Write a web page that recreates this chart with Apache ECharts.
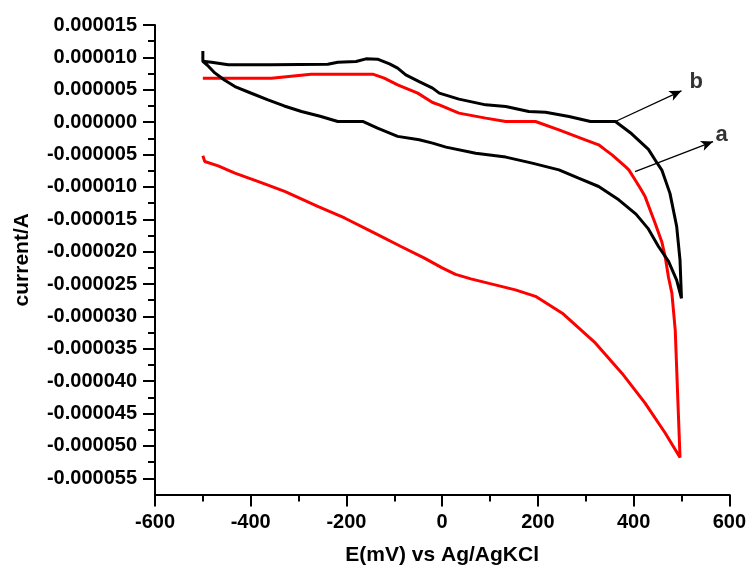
<!DOCTYPE html>
<html>
<head>
<meta charset="utf-8">
<script src="https://cdn.jsdelivr.net/npm/echarts@6/dist/echarts.min.js"></script>
<style>html,body{margin:0;padding:0;background:#fff;}#c{width:749px;height:575px;}</style>
</head>
<body>
<div id="c"></div>
<script>
// ---- data (E in mV, current in A) ----
const xTicks = [-600, -400, -200, 0, 200, 400, 600];
const yTicks = [0.000015, 0.000010, 0.000005, 0.000000, -0.000005, -0.000010, -0.000015, -0.000020, -0.000025, -0.000030, -0.000035, -0.000040, -0.000045, -0.000050, -0.000055];
const yMinorTicks = [0.0000125, 0.0000075, 0.0000025, -0.0000025, -0.0000075, -0.0000125, -0.0000175, -0.0000225, -0.0000275, -0.0000325, -0.0000375, -0.0000425, -0.0000475, -0.0000525];
const yMin = -0.0000575;
const yMax = 0.000015;

// curve b (black): forward sweep then return sweep
const blackE = [-500, -500, -488, -475, -455, -433, -400, -364, -330, -294, -255, -218, -166, -135, -93, -48, -20, 8, 70, 133, 188, 244, 285, 327, 369, 405, 430, 452, 473, 490, 500,
  497, 490, 476, 459, 449, 431, 396, 362, 310, 265, 216, 181, 133, 91, 35, -6, -20, -48, -76, -93, -110, -135, -159, -180, -218, -239, -357, -447, -482, -500];
const blackI = [11.0e-6, 9.4e-6, 8.6e-6, 7.6e-6, 6.5e-6, 5.5e-6, 4.5e-6, 3.44e-6, 2.5e-6, 1.64e-6, 0.9e-6, 0.1e-6, 0.1e-6, -0.93e-6, -2.2e-6, -2.73e-6, -3.24e-6, -3.86e-6, -4.8e-6, -5.4e-6, -6.33e-6, -7.37e-6, -8.65e-6, -9.94e-6, -12.0e-6, -14.2e-6, -16.4e-6, -19.2e-6, -21.5e-6, -24.4e-6, -27.2e-6,
  -21.3e-6, -16.1e-6, -11.0e-6, -7.4e-6, -6.3e-6, -4.2e-6, -1.8e-6, 0.1e-6, 0.1e-6, 0.86e-6, 1.54e-6, 1.64e-6, 2.41e-6, 2.67e-6, 3.55e-6, 4.48e-6, 5.25e-6, 6.27e-6, 7.3e-6, 8.34e-6, 9.0e-6, 9.73e-6, 9.77e-6, 9.36e-6, 9.26e-6, 8.95e-6, 8.85e-6, 8.85e-6, 9.26e-6, 9.4e-6];

// curve a (red): forward sweep then return sweep
const redE = [-500, -496, -468, -433, -378, -329, -260, -204, -142, -86, -37, 0, 28, 60, 98, 153, 195, 251, 320, 376, 424, 466, 497,
  492, 487, 480, 473, 466, 459, 445, 424, 414, 403, 390, 383, 355, 341, 327, 299, 244, 195, 133, 91, 35, -6, -20, -51, -93, -121, -145, -274, -357, -500];
const redI = [-5.2e-6, -6.08e-6, -6.75e-6, -7.88e-6, -9.33e-6, -10.7e-6, -13.0e-6, -14.8e-6, -17.1e-6, -19.2e-6, -21.0e-6, -22.5e-6, -23.5e-6, -24.2e-6, -24.9e-6, -25.9e-6, -26.9e-6, -29.5e-6, -34.1e-6, -38.8e-6, -43.4e-6, -48.0e-6, -51.8e-6,
  -42.0e-6, -32.1e-6, -26.4e-6, -24.0e-6, -20.8e-6, -18.5e-6, -15.6e-6, -11.5e-6, -10.2e-6, -8.9e-6, -7.37e-6, -6.86e-6, -5.05e-6, -4.28e-6, -3.5e-6, -2.73e-6, -1.19e-6, 0.1e-6, 0.1e-6, 0.62e-6, 1.39e-6, 2.67e-6, 3.03e-6, 4.48e-6, 5.76e-6, 6.79e-6, 7.41e-6, 7.41e-6, 6.79e-6, 6.79e-6];

// annotation arrows: [startE, startI, endE, endI]
const arrowB = [362, 0.1e-6, 500, 4.83e-6];
const arrowA = [403, -7.63e-6, 566, -3.0e-6];
const labelNames = ['b', 'a'];
const labelE = [531, 584];
const labelI = [6.27e-6, -1.96e-6];

const xTitle = 'E(mV) vs Ag/AgKCl';
const yTitle = 'current/A';

// ---- chart ----
const pair = (xs, ys) => xs.map((x, i) => [x, ys[i]]);
const font = 'Liberation Sans, Arial, sans-serif';
const chart = echarts.init(document.getElementById('c'), null, {renderer: 'canvas'});
const axisLineStyle = {color: '#000', width: 2};

chart.setOption({
  animation: false,
  backgroundColor: '#fff',
  grid: {left: 155, right: 18, top: 25, bottom: 80.5, containLabel: false},
  xAxis: {
    type: 'value', min: xTicks[0], max: xTicks[xTicks.length - 1], interval: 200,
    axisLine: {show: true, onZero: false, lineStyle: axisLineStyle},
    axisTick: {show: true, length: 12, lineStyle: axisLineStyle},
    minorTick: {show: true, splitNumber: 2, length: 7, lineStyle: axisLineStyle},
    splitLine: {show: false}, minorSplitLine: {show: false},
    axisLabel: {color: '#000', fontSize: 20, fontWeight: 'bold', fontFamily: font, margin: 18},
    name: xTitle, nameLocation: 'middle', nameGap: 50,
    nameTextStyle: {color: '#000', fontSize: 21, fontWeight: 'bold', fontFamily: font}
  },
  yAxis: [{
    type: 'value', min: yMin, max: yMax,
    axisLine: {show: true, onZero: false, lineStyle: axisLineStyle},
    axisTick: {show: true, length: 12, lineStyle: axisLineStyle, customValues: yTicks},
    splitLine: {show: false},
    axisLabel: {color: '#000', fontSize: 20, fontWeight: 'bold', fontFamily: font, margin: 18,
      customValues: yTicks, formatter: v => (Math.abs(v) < 1e-12 ? 0 : v).toFixed(6)},
    name: yTitle, nameLocation: 'middle', nameGap: 122, nameRotate: 90,
    nameTextStyle: {color: '#000', fontSize: 21, fontWeight: 'bold', fontFamily: font}
  }, {
    type: 'value', min: yMin, max: yMax, position: 'left', offset: 0,
    axisLine: {show: false, onZero: false},
    axisTick: {show: true, length: 7, lineStyle: axisLineStyle, customValues: yMinorTicks},
    axisLabel: {show: false},
    splitLine: {show: false}
  }],
  series: [{
    type: 'line', name: 'b', data: pair(blackE, blackI), showSymbol: false, symbol: 'none',
    lineStyle: {color: '#000', width: 3}, smooth: false, z: 3,
    markLine: {
      silent: true, symbol: ['none', 'arrow'], symbolSize: [8, 12],
      lineStyle: {color: '#000', width: 1.3, type: 'solid'}, label: {show: false},
      data: [
        [{coord: [arrowB[0], arrowB[1]]}, {coord: [arrowB[2], arrowB[3]]}],
        [{coord: [arrowA[0], arrowA[1]]}, {coord: [arrowA[2], arrowA[3]]}]
      ]
    }
  }, {
    type: 'line', name: 'a', data: pair(redE, redI), showSymbol: false, symbol: 'none',
    lineStyle: {color: '#ff0000', width: 3}, smooth: false, z: 2
  }, {
    type: 'scatter', symbolSize: 0, silent: true,
    data: labelNames.map((n, i) => ({name: n, value: [labelE[i], labelI[i]]})),
    label: {show: true, position: 'inside', formatter: p => p.name, color: '#000',
      fontSize: 22, fontWeight: 'bold', fontFamily: font}
  }]
});
</script>
</body>
</html>
